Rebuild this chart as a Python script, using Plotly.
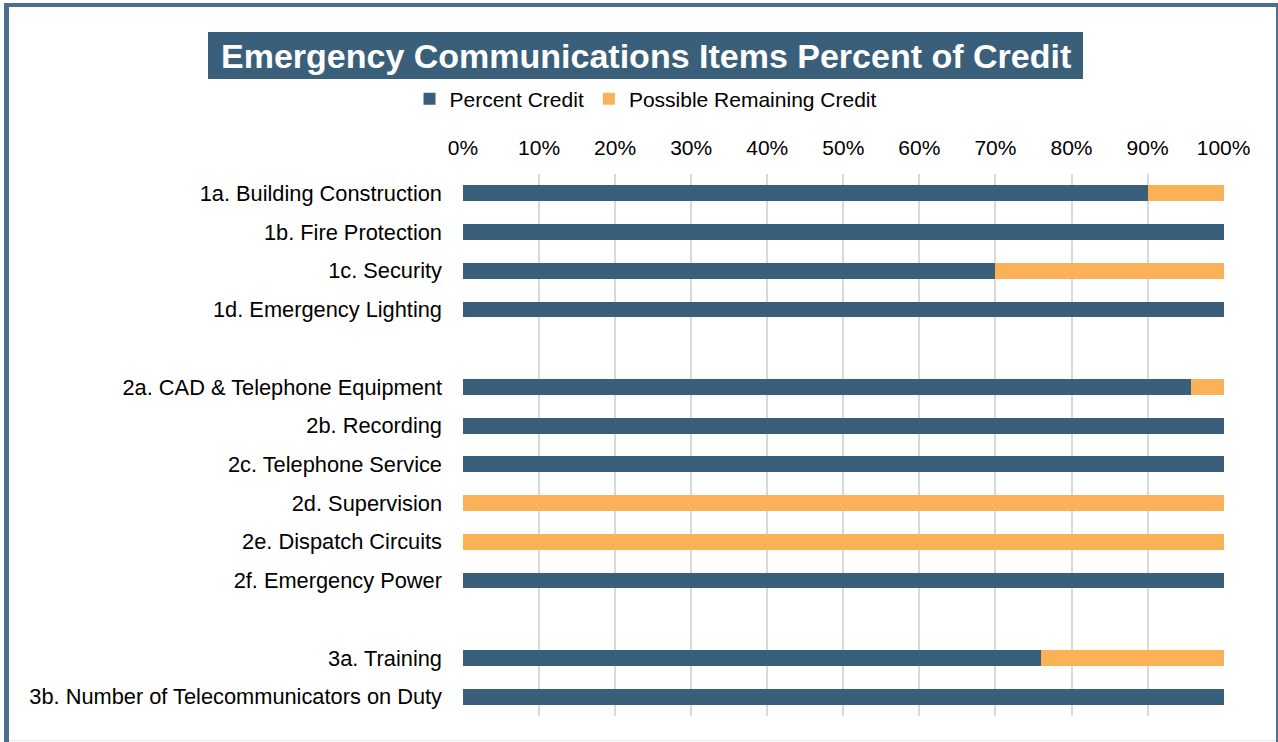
import plotly.graph_objects as go

categories = ["1a. Building Construction", "1b. Fire Protection", "1c. Security",
              "1d. Emergency Lighting", " ", "2a. CAD & Telephone Equipment",
              "2b. Recording", "2c. Telephone Service", "2d. Supervision",
              "2e. Dispatch Circuits", "2f. Emergency Power", "  ",
              "3a. Training", "3b. Number of Telecommunicators on Duty"]
percent_credit = [0.90, 1.00, 0.70, 1.00, None, 0.957, 1.00, 1.00, 0.0, 0.0, 1.00, None, 0.76, 1.00]
remaining_credit = [0.10, 0.0, 0.30, 0.0, None, 0.043, 0.0, 0.0, 1.00, 1.00, 0.0, None, 0.24, 0.0]
tick_vals = [0, 0.1, 0.2, 0.3, 0.4, 0.5, 0.6, 0.7, 0.8, 0.9, 1.0]

DARK = "#3A5F7A"
ORANGE = "#FBB157"
BORDER = "#4D6E8C"
W, H = 1278, 742
L, R, T, B = 463, 54, 174, 26
PW, PH = W - L - R, H - T - B

def px(x):
    return (x - L) / PW

def py(y):
    return (H - B - y) / PH

fig = go.Figure()
fig.add_trace(go.Bar(y=categories, x=percent_credit, orientation="h", name="Percent Credit",
                     marker=dict(color=DARK, line=dict(width=0))))
fig.add_trace(go.Bar(y=categories, x=remaining_credit, orientation="h", name="Possible Remaining Credit",
                     marker=dict(color=ORANGE, line=dict(width=0))))

shapes = [
    # chart border
    dict(type="line", xref="paper", yref="paper", x0=px(6.5), x1=px(6.5), y0=py(3), y1=py(742),
         line=dict(color=BORDER, width=5)),
    dict(type="line", xref="paper", yref="paper", x0=px(4), x1=px(1278), y0=py(5), y1=py(5),
         line=dict(color=BORDER, width=4)),
    dict(type="line", xref="paper", yref="paper", x0=px(1277), x1=px(1277), y0=py(3), y1=py(742),
         line=dict(color=BORDER, width=2)),
    dict(type="line", xref="paper", yref="paper", x0=px(9), x1=px(1276), y0=py(740.5), y1=py(740.5),
         line=dict(color="#E6E6E6", width=1)),
    # title box
    dict(type="rect", xref="paper", yref="paper", x0=px(208), x1=px(1083), y0=py(79), y1=py(32),
         fillcolor=DARK, line=dict(width=0), layer="below"),
]

fig.update_layout(
    width=W, height=H,
    margin=dict(l=L, r=R, t=T, b=B),
    paper_bgcolor="white", plot_bgcolor="white",
    barmode="stack", bargap=0.59,
    font=dict(family="Liberation Sans, Arial, sans-serif", color="#000000", size=21),
    showlegend=True,
    legend=dict(orientation="h", x=px(646), xanchor="center", y=py(99), yanchor="middle",
                font=dict(size=21), traceorder="normal", itemwidth=30,
                bgcolor="rgba(0,0,0,0)"),
    shapes=shapes,
    annotations=[dict(text="<b>Emergency Communications Items Percent of Credit</b>",
                      xref="paper", yref="paper", x=px(645.5), y=py(56), xanchor="center",
                      yanchor="middle", showarrow=False,
                      font=dict(size=34, color="white", family="Liberation Sans, Arial, sans-serif"))],
    xaxis=dict(side="top", range=[0, 1.0005], tickvals=tick_vals, tickformat=".0%",
               showgrid=True, gridcolor="#D9D9D9", gridwidth=2, zeroline=False,
               showline=False, ticks="", tickfont=dict(size=21), ticklabelstandoff=14),
    yaxis=dict(categoryorder="array", categoryarray=categories, autorange="reversed",
               showgrid=False, showline=False, zeroline=False, ticks="",
               ticklabelstandoff=20, tickfont=dict(size=21.8)),
)

fig.write_html("out.html", config={"displayModeBar": False},
               post_script="document.body.style.margin='0';document.body.style.overflow='hidden';")
